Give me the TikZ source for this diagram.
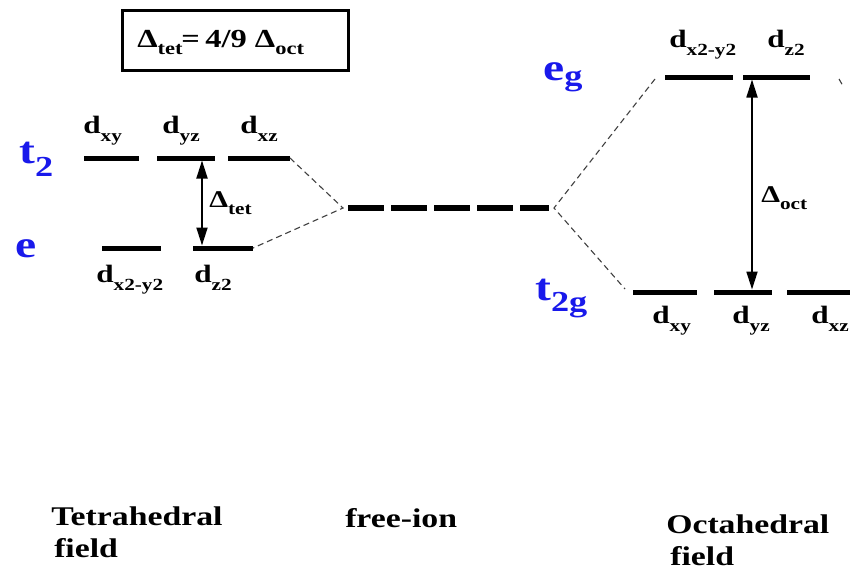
\documentclass[tikz,border=0pt]{standalone}
\usepackage{fontspec}
\setmainfont{Liberation Serif}
\usetikzlibrary{arrows.meta}
\definecolor{termblue}{RGB}{25,25,235}

% orbital label: bold d with a lowered subscript
\newcommand{\orb}[1]{\fontsize{25}{25}\selectfont d\raisebox{-8pt}{\fontsize{17}{17}\selectfont #1}}
% term symbol: large letter with a lowered subscript
\newcommand{\term}[3]{\fontsize{38}{38}\selectfont #1\raisebox{-#3}{\fontsize{29}{29}\selectfont #2}}
% splitting symbol: Delta with a lowered subscript
\newcommand{\split}[4]{\fontsize{#2}{#2}\selectfont Δ\raisebox{-#3}{\fontsize{#4}{#4}\selectfont #1}}

\tikzset{
  level/.style={line width=5pt},
  freeion/.style={line width=6.5pt, dash pattern=on 36pt off 7pt},
  corr/.style={line width=1.1pt, draw=black!75, dash pattern=on 6pt off 4pt},
  gap/.style={line width=1.8pt, {Triangle[length=18pt,width=11pt]}-{Triangle[length=18pt,width=11pt]}},
  txt/.style={inner sep=0pt, xscale=1.25, font=\bfseries, anchor=base west},
  termlbl/.style={txt, text=termblue},
}

\begin{document}
\begin{tikzpicture}[x=1pt, y=-1pt]
\clip (0,0) rectangle (850,571);
\fill[white] (0,0) rectangle (850,571);

% ---- relation box ----
\node[draw, line width=3pt, minimum width=226pt, minimum height=60pt, inner sep=0pt] (rel) at (235.5,40.5) {};
\node[txt] (reltext) at (137,47) {\split{tet}{26}{7pt}{18}\kern-1pt=\,4/9 \split{oct}{26}{7pt}{18}};

% ---- tetrahedral field ----
\coordinate (txyL) at (84,158);  \coordinate (txyR) at (139,158);
\coordinate (tyzL) at (157,158); \coordinate (tyzR) at (215,158);
\coordinate (txzL) at (228,158); \coordinate (txzR) at (290,158);
\coordinate (tx2L) at (102,248); \coordinate (tx2R) at (161,248);
\coordinate (tz2L) at (193,248); \coordinate (tz2R) at (253,248);
\foreach \a in {txy,tyz,txz,tx2,tz2} \draw[level] (\a L) -- (\a R);

\node[txt] (ltxy) at (83,133) {\orb{xy}};
\node[txt] (ltyz) at (162,133) {\orb{yz}};
\node[txt] (ltxz) at (240,133) {\orb{xz}};
\node[txt] (ltx2) at (96,282) {\orb{x2-y2}};
\node[txt] (ltz2) at (194,282) {\orb{z2}};

\node[termlbl] (tt2) at (19,163) {\term{t}{2}{13pt}};
\node[termlbl] (te) at (15,257) {\fontsize{38}{38}\selectfont e};

\coordinate (tarrTop) at (202,160.5);
\coordinate (tarrBot) at (202,245.5);
\draw[gap] (tarrTop) -- (tarrBot);
\node[txt] (dtet) at (209,207) {\split{tet}{24}{7pt}{17}};

% ---- free ion ----
\coordinate (fiL) at (343,208);
\coordinate (fiR) at (554,208);
\draw[freeion] (348,208) -- (549,208);

\draw[corr] (txzR) -- (fiL) -- (tz2R);

% ---- octahedral field ----
\coordinate (ox2L) at (665,77); \coordinate (ox2R) at (733,77);
\coordinate (oz2L) at (743,77); \coordinate (oz2R) at (810,77);
\coordinate (oxyL) at (633,292); \coordinate (oxyR) at (697,292);
\coordinate (oyzL) at (714,292); \coordinate (oyzR) at (772,292);
\coordinate (oxzL) at (787,292); \coordinate (oxzR) at (860,292);
\foreach \a in {ox2,oz2,oxy,oyz,oxz} \draw[level] (\a L) -- (\a R);

\node[txt] (lox2) at (669,47) {\orb{x2-y2}};
\node[txt] (loz2) at (767,47) {\orb{z2}};
\node[txt] (loxy) at (652,323) {\orb{xy}};
\node[txt] (loyz) at (732,323) {\orb{yz}};
\node[txt] (loxz) at (811,323) {\orb{xz}};

\node[termlbl] (oeg) at (543,80) {\term{e}{g}{5pt}};
\node[termlbl] (ot2g) at (535,300) {\term{t}{2g}{11pt}};

\coordinate (oarrTop) at (752,79.5);
\coordinate (oarrBot) at (752,289.5);
\draw[gap] (oarrTop) -- (oarrBot);
\node[txt] (doct) at (761,202) {\split{oct}{24}{7pt}{17}};

\coordinate (egA) at (655,79);
\coordinate (t2gA) at (625,289);
\draw[corr] (egA) -- (fiR) -- (t2gA);

\coordinate (stubA) at (839,79);
\coordinate (stubB) at (843,86);
\draw[corr] (stubA) -- (stubB);

% ---- captions ----
\node[txt] (captet) at (51,525) {\fontsize{27}{27}\selectfont Tetrahedral};
\node[txt] (captetb) at (54,557) {\fontsize{27}{27}\selectfont field};
\node[txt] (capfree) at (345,527) {\fontsize{27}{27}\selectfont free-ion};
\node[txt] (capoct) at (666,533) {\fontsize{27}{27}\selectfont Octahedral};
\node[txt] (capoctb) at (670,565) {\fontsize{27}{27}\selectfont field};
\end{tikzpicture}
\end{document}
